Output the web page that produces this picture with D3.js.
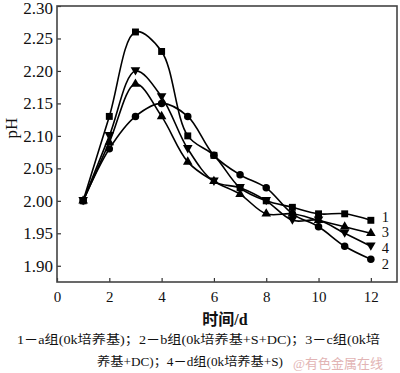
<!DOCTYPE html>
<html>
<head>
<meta charset="utf-8">
<script src="https://cdn.jsdelivr.net/npm/d3@7/dist/d3.min.js"></script>
<style>
  html, body { margin: 0; padding: 0; background: #fff; }
  svg { display: block; }
</style>
</head>
<body>
<svg id="chart" width="400" height="373"></svg>
<script>
// time (d)
const days = [1, 2, 3, 4, 5, 6, 7, 8, 9, 10, 11, 12];
// pH per group
const group1 = [2.00, 2.13, 2.26, 2.23, 2.10, 2.07, 2.02, 2.00, 1.99, 1.98, 1.98, 1.97];
const group2 = [2.00, 2.08, 2.13, 2.15, 2.13, 2.07, 2.04, 2.02, 1.98, 1.96, 1.93, 1.91];
const group3 = [2.00, 2.09, 2.18, 2.13, 2.06, 2.03, 2.01, 1.98, 1.98, 1.97, 1.96, 1.95];
const group4 = [2.00, 2.10, 2.20, 2.16, 2.08, 2.03, 2.02, 2.00, 1.97, 1.97, 1.95, 1.93];
const seriesNames = ["1", "2", "3", "4"];
const xTicks = [0, 2, 4, 6, 8, 10, 12];
const yTicks = [1.90, 1.95, 2.00, 2.05, 2.10, 2.15, 2.20, 2.25, 2.30];
const captionLines = [
  "1－a组(0k培养基)；2－b组(0k培养基+S+DC)；3－c组(0k培",
  "养基+DC)；4－d组(0k培养基+S)"
];

const series = [
  { name: seriesNames[0], values: group1, symbol: d3.symbolSquare, size: 48, rot: 0, dy: -3 },
  { name: seriesNames[1], values: group2, symbol: d3.symbolCircle, size: 44, rot: 0, dy: 5 },
  { name: seriesNames[2], values: group3, symbol: d3.symbolTriangle, size: 40, rot: 0, dy: -1 },
  { name: seriesNames[3], values: group4, symbol: d3.symbolTriangle, size: 40, rot: 180, dy: 2 }
];

const svg = d3.select("#chart");
const margin = { left: 57, top: 6, right: 3, bottom: 91 };
const width = 400, height = 373;
const plotW = width - margin.left - margin.right;
const plotH = height - margin.top - margin.bottom;

const x = d3.scaleLinear().domain([0, 13]).range([margin.left, margin.left + plotW]);
const y = d3.scaleLinear().domain([1.875, 2.30]).range([margin.top + plotH, margin.top]);

const serif = "'Liberation Serif', 'Times New Roman', serif";
const cjk = "'Liberation Serif', 'Noto Sans CJK SC', serif";

// axes (ticks pointing inward)
const xAxis = svg.append("g")
  .attr("transform", `translate(0,${margin.top + plotH})`)
  .call(d3.axisBottom(x).tickValues(xTicks).tickSizeInner(-4).tickSizeOuter(0).tickPadding(9).tickFormat(d3.format("d")));
xAxis.selectAll("text").attr("font-family", serif).attr("font-size", 15).attr("fill", "#111");

const yAxis = svg.append("g")
  .attr("transform", `translate(${margin.left},0)`)
  .call(d3.axisLeft(y).tickValues(yTicks).tickSizeInner(-4).tickSizeOuter(0).tickPadding(4).tickFormat(d3.format(".2f")));
yAxis.selectAll("text").attr("font-family", serif).attr("font-size", 17).attr("fill", "#111")
  .attr("dy", (d, i) => i === yTicks.length - 1 ? "0.45em" : "0.32em");

svg.selectAll(".domain").remove();
svg.selectAll(".tick line").attr("stroke", "#333").attr("stroke-width", 1.2);

// frame
svg.append("rect")
  .attr("x", margin.left).attr("y", margin.top)
  .attr("width", plotW).attr("height", plotH)
  .attr("fill", "none").attr("stroke", "#444").attr("stroke-width", 1.6);

const line = d3.line()
  .x((d, i) => x(days[i]))
  .y(d => y(d))
  .curve(d3.curveCatmullRom.alpha(0.5));

const g = svg.append("g");
series.forEach(s => {
  g.append("path")
    .datum(s.values)
    .attr("d", line)
    .attr("fill", "none")
    .attr("stroke", "#000")
    .attr("stroke-width", 1.6);
});

series.forEach(s => {
  g.selectAll(null)
    .data(s.values)
    .enter()
    .append("path")
    .attr("d", d3.symbol().type(s.symbol).size(s.size))
    .attr("transform", (d, i) => `translate(${x(days[i])},${y(d) + (s.rot ? -1 : 0)}) rotate(${s.rot})`)
    .attr("fill", "#000");
});

// end labels
series.forEach(s => {
  const last = s.values[s.values.length - 1];
  svg.append("text")
    .attr("x", x(days[days.length - 1]) + 11)
    .attr("y", y(last) + s.dy)
    .attr("dy", "0.35em")
    .attr("font-family", serif)
    .attr("font-size", 14.5)
    .attr("fill", "#111")
    .text(s.name);
});

// axis titles
svg.append("text")
  .attr("transform", "translate(17,128) rotate(-90)")
  .attr("text-anchor", "middle")
  .attr("font-family", serif)
  .attr("font-size", 17)
  .attr("fill", "#111")
  .text("pH");

svg.append("text")
  .attr("x", 225).attr("y", 325)
  .attr("text-anchor", "middle")
  .attr("font-family", cjk)
  .attr("font-size", 16)
  .attr("font-weight", "bold")
  .attr("fill", "#111")
  .text("时间/d");

// caption
svg.append("text")
  .attr("x", 17).attr("y", 344)
  .attr("font-family", cjk)
  .attr("font-size", 12.5)
  .attr("fill", "#111")
  .attr("textLength", 363)
  .attr("lengthAdjust", "spacingAndGlyphs")
  .text(captionLines[0]);

svg.append("text")
  .attr("x", 97).attr("y", 366)
  .attr("font-family", cjk)
  .attr("font-size", 12.5)
  .attr("fill", "#111")
  .attr("textLength", 186)
  .attr("lengthAdjust", "spacingAndGlyphs")
  .text(captionLines[1]);

svg.append("text")
  .attr("x", 293).attr("y", 368)
  .attr("font-family", cjk)
  .attr("font-size", 13)
  .attr("fill", "#e2b4b4")
  .text("@有色金属在线");
</script>
</body>
</html>
